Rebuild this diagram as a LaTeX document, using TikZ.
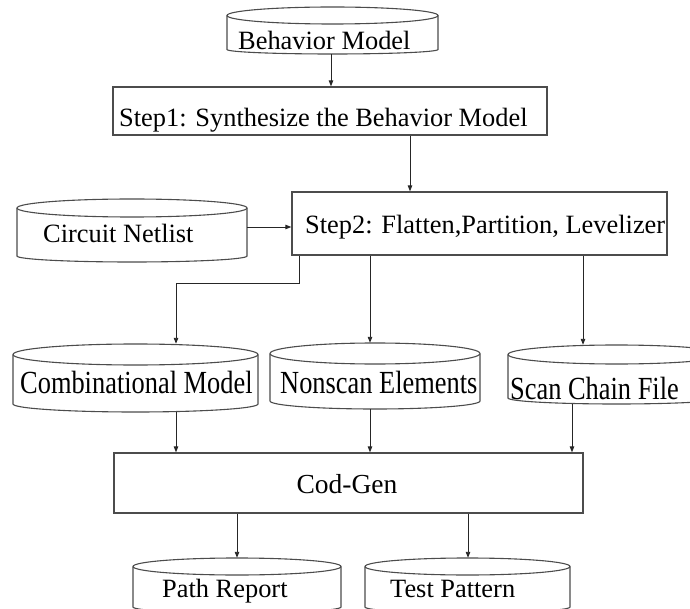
\documentclass[tikz,border=0pt]{standalone}
\usepackage{fontspec}
\setmainfont{Liberation Serif}
\usetikzlibrary{arrows.meta}

% drum-shaped data store: name, left, right, top, bottom, top radius, bottom depth
\newcommand\drum[7]{%
  \node[store, minimum width={(#3-#2)*1pt}, minimum height={(#5-#4)*1pt}]
    (#1) at ({(#2+#3)/2},{(#4+#5)/2}) {};
  \draw[rim] ({(#2+#3)/2},{#4+#6}) ellipse[x radius={(#3-#2)/2*1pt}, y radius={#6*1pt}];
  \draw[rim] (#2,{#4+#6}) -- (#2,{#5-#7})
    arc[start angle=180, end angle=360, x radius={(#3-#2)/2*1pt}, y radius={#7*1pt}]
    -- (#3,{#4+#6});
}

\tikzset{
  store/.style={draw=none, inner sep=0pt, rectangle},
  rim/.style={draw=black!70, line width=1.1pt},
  stage/.style={draw=black!70, line width=1.3pt, inner sep=0pt, rectangle},
  flow/.style={draw=black!85, line width=0.9pt, -{Triangle[length=6pt,width=4.5pt]}},
  lbl/.style={inner sep=0pt, anchor=base west, font=\fontsize{26.4}{30}\selectfont, text=black},
}

\begin{document}
\begin{tikzpicture}[x=1pt, y=-1pt]
\useasboundingbox (0,0) rectangle (690,609);
\clip (0,0) rectangle (690,609);

% data stores
\drum{bm}{227}{438}{7}{54}{8.5}{4.5}
\drum{cn}{17}{247}{199}{262}{9}{6}
\drum{cm}{13}{258}{344}{412}{10.5}{8}
\drum{ne}{270}{480}{343}{409}{10.5}{8}
\drum{sc}{508}{725}{345}{404}{9.5}{6}
\drum{pr}{133}{341}{558}{613}{8.5}{6}
\drum{tp}{365}{570}{558}{613}{8.5}{6}

% processing stages
\node[stage, minimum width=434pt, minimum height=48pt] (s1) at (330,111) {};
\node[stage, minimum width=375pt, minimum height=63pt] (s2) at (479.5,223.5) {};
\node[stage, minimum width=469pt, minimum height=60pt] (cg) at (348.5,483) {};

% texts
\node[lbl] (tbm) at (238,50) {Behavior Model};
\node[lbl] (ts1) at (119,127) {Step1: Synthesize the Behavior Model};
\node[lbl] (ts2) at (305,234) {Step2: Flatten,Partition, Levelizer};
\node[lbl] (tcn) at (43,243) {Circuit Netlist};
\node[lbl] (tcm) at (20,393) {\scalebox{1}[1.22]{Combinational Model}};
\node[lbl] (tne) at (280,393) {\scalebox{1}[1.22]{Nonscan Elements}};
\node[lbl] (tsc) at (510,399) {\scalebox{1}[1.22]{Scan Chain File}};
\node[lbl, anchor=base, font=\fontsize{27.5}{30}\selectfont] (tcg) at (347,493) {Cod-Gen};
\node[lbl] (tpr) at (162,597) {Path Report};
\node[lbl] (ttp) at (390,597) {Test Pattern};

% connectors
\draw[flow] (bm.south -| 331,0) -- (s1.north -| 331,0);
\draw[flow] (s1.south -| 410,0) -- (s2.north -| 410,0);
\draw[flow] ([yshift=3.5pt]cn.east) -- ([yshift=3.5pt]cn.east -| s2.west);
\draw[flow] (s2.south -| 299,0) -- (299,283) -- (176,283) -- (cm.north -| 176,0);
\draw[flow] (s2.south -| 370,0) -- (ne.north -| 370,0);
\draw[flow] (s2.south -| 583,0) -- (sc.north -| 583,0);
\draw[flow] (cm.south -| 176,0) -- (cg.north -| 176,0);
\draw[flow] (ne.south -| 370,0) -- (cg.north -| 370,0);
\draw[flow] (sc.south -| 572,0) -- (cg.north -| 572,0);
\draw[flow] (cg.south -| 237,0) -- (pr.north -| 237,0);
\draw[flow] (cg.south -| 468,0) -- (tp.north -| 468,0);
\end{tikzpicture}
\end{document}
